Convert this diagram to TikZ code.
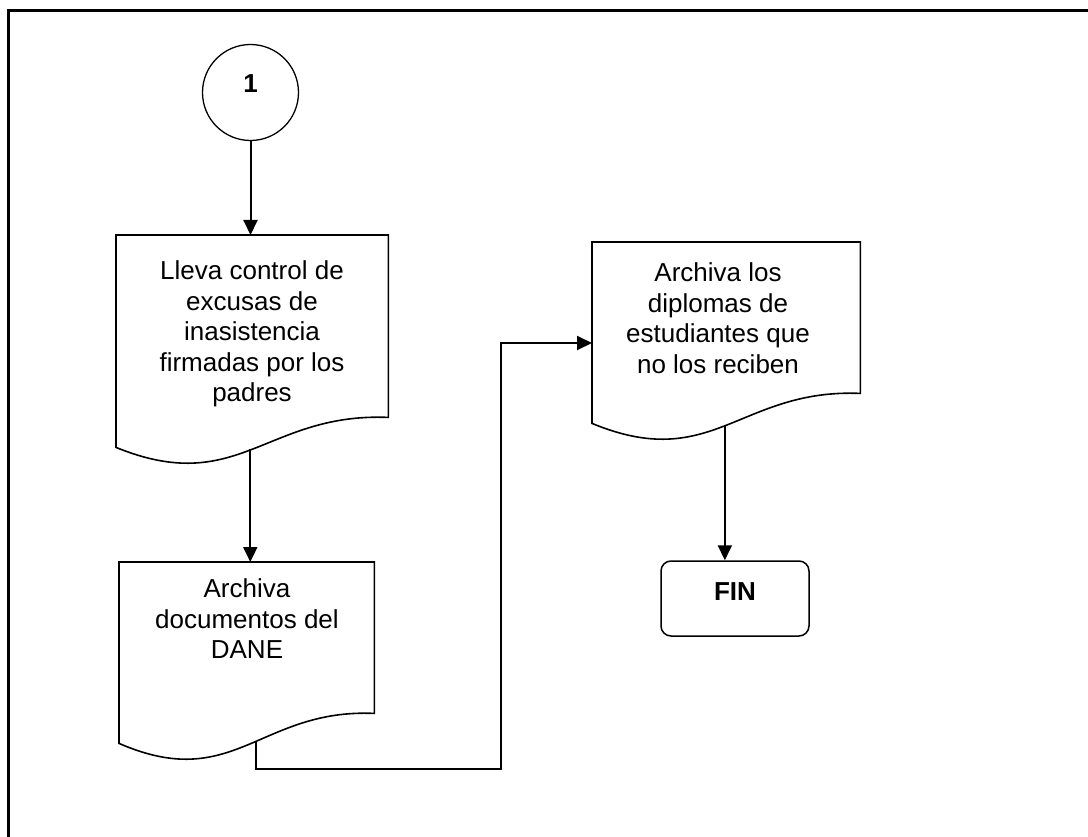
\documentclass[tikz,border=0pt]{standalone}
\usepackage{fontspec}
\setmainfont{Liberation Sans}
\usetikzlibrary{arrows.meta,calc}
\newcommand\docpath[1]{%
  \draw[shapeline] (#1.south west) -- (#1.north west) -- (#1.north east)
    -- ($(#1.south east)+(0,-30)$)
    .. controls ($(#1.south west)!0.55!(#1.south east)+(0,-35)$)
    and ($(#1.south west)!0.45!(#1.south east)+(0,50)$) .. (#1.south west) -- cycle;}
\begin{document}
\begin{tikzpicture}[x=1pt,y=-1pt,
  shapeline/.style={line width=1.6pt},
  conn/.style={line width=2pt},
  arr/.style={conn,-{Triangle[length=15pt,width=14pt]}},
  txt/.style={font=\fontsize{26}{30.5}\selectfont, align=center, inner sep=0pt},
  docbox/.style={draw=none, inner sep=0pt, anchor=north west},
]
\useasboundingbox (0,0) rectangle (1088,837);
\draw[line width=3pt] (1095,11) -- (8.5,11) -- (8.5,845);

\node[circle, draw, line width=1.3pt, minimum size=96pt, inner sep=0pt,
  font=\bfseries\fontsize{26}{30}\selectfont, text height=18.7pt, text depth=18.7pt] (c1) at (250.5,92.5) {1};

\node[docbox, minimum width=272pt, minimum height=212pt] (b1) at (116,235) {};
\node[docbox, minimum width=255pt, minimum height=181pt] (b2) at (119,562) {};
\node[docbox, minimum width=268pt, minimum height=181pt] (b3) at (592,242) {};
\docpath{b1}
\docpath{b2}
\docpath{b3}

\node[txt] (t1) at (252,334) {Lleva control de\\excusas de\\inasistencia\\firmadas por los\\padres};
\node[txt] (t2) at (247,619) {Archiva\\documentos del\\DANE};
\node[txt] (t3) at (718,318) {Archiva los\\diplomas de\\estudiantes que\\no los reciben};

\node[draw, rounded corners=10pt, line width=1.5pt, minimum width=148pt, minimum height=75pt,
  inner sep=0pt, font=\bfseries\fontsize{26}{30}\selectfont, text height=18.7pt, text depth=15pt] (fin) at (735,598.5) {FIN};

\coordinate (b1out) at ($(b1.south west)!0.493!(b1.south east)+(0,2)$);
\coordinate (b2out) at ($(b2.south west)!0.535!(b2.south east)+(0,-1)$);
\coordinate (b3out) at ($(b3.south west)!0.495!(b3.south east)+(0,2)$);
\coordinate (b3in) at ($(b3.north west)+(0,101)$);
\coordinate (jog) at (501,769);

\draw[arr] (c1.south) -- (c1.south |- b1.north);
\draw[arr] (b1out) -- (b1out |- b2.north);
\draw[arr] (b2out) |- (jog) |- (b3in);
\draw[arr] (b3out) -- (b3out |- fin.north);
\end{tikzpicture}
\end{document}
